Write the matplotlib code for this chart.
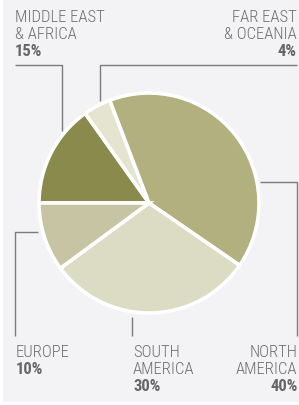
import matplotlib
matplotlib.use("Agg")
import matplotlib.pyplot as plt
from matplotlib.patches import Rectangle

plt.rcParams['font.family'] = ['Roboto Condensed', 'Liberation Sans', 'DejaVu Sans']

# data (clockwise from 9 o'clock)
regions = ['MIDDLE EAST\n& AFRICA', 'FAR EAST\n& OCEANIA', 'NORTH\nAMERICA', 'SOUTH\nAMERICA', 'EUROPE']
shares = [15, 4, 40, 30, 10]
colors = ['#8a8a4c', '#e5e4d0', '#b2b07f', '#dcdbc3', '#c6c4a2']

W, H = 299, 406
fig = plt.figure(figsize=(W / 100, H / 100), dpi=100, facecolor='white')
ax = fig.add_axes([0, 0, 1, 1])

def Y(y):
    # image pixel row -> data y
    return H - y

ax.pie(shares, colors=colors, startangle=180, counterclock=False,
       center=(149, Y(204)), radius=110,
       wedgeprops={'edgecolor': 'white', 'linewidth': 2.6})
ax.set_xlim(0, W)
ax.set_ylim(0, H)
ax.set_aspect('auto')
ax.axis('off')
ax.add_patch(Rectangle((3, Y(403)), W - 3, 403, facecolor='#f3f3f5', edgecolor='none', zorder=-5))

lc = '#7b7b7b'
lw = 1.0
leaders = [
    [(15, 66), (62, 66), (62, 132)],
    [(100, 102), (100, 66), (297, 66)],
    [(260, 183), (297, 183), (297, 337)],
    [(38, 233), (15, 233), (15, 337)],
    [(132, 318), (132, 337)],
]
for pts in leaders:
    ax.plot([p[0] for p in pts], [Y(p[1]) for p in pts], color=lc, lw=lw,
            solid_capstyle='butt', zorder=3)

# label anchors: x, baseline of first line, alignment
anchors = [(15, 22, 'left'), (297, 22, 'right'), (297.5, 357, 'right'),
           (133, 357, 'left'), (16, 357, 'left')]
tc = '#6e6e6e'
for name, pct, (x, yb, ha) in zip(regions, shares, anchors):
    lines = name.split('\n')
    for i, ln in enumerate(lines):
        ax.text(x, Y(yb + i * 17), ln, ha=ha, va='baseline', fontsize=12,
                color=tc, fontweight='light')
    ax.text(x, Y(yb + len(lines) * 17), f'{pct}%', ha=ha, va='baseline',
            fontsize=12, color='#666666', fontweight='bold')

fig.savefig('out.png', dpi=100, facecolor='white')
